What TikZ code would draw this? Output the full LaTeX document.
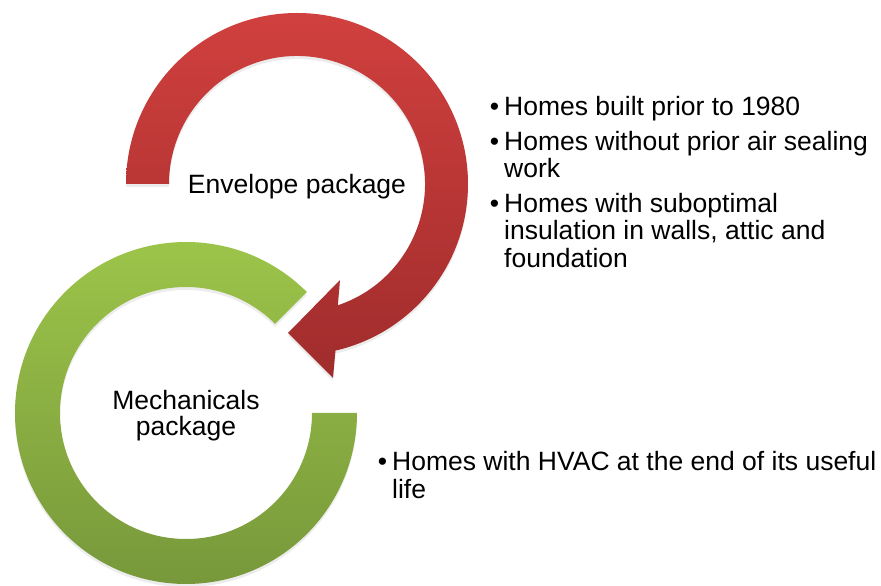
\documentclass[tikz,border=0pt]{standalone}
\usepackage{fontspec}
\setmainfont{Liberation Sans}
\usetikzlibrary{shadows}

\definecolor{envtop}{RGB}{208,64,62}
\definecolor{envbot}{RGB}{160,44,44}
\definecolor{mechtop}{RGB}{158,198,74}
\definecolor{mechbot}{RGB}{118,150,58}

\newcommand{\itembullet}{\llap{•\hspace{5pt}}}

\tikzset{
  ringshadow/.style={drop shadow={shadow xshift=0pt,shadow yshift=-3pt,opacity=0.15}},
  pkglabel/.style={font=\fontsize{26.5}{26}\selectfont,inner sep=0pt},
  itemtext/.style={font=\fontsize{26.5}{27.5}\selectfont,align=left,anchor=base west,inner sep=0pt}
}

\begin{document}
\begin{tikzpicture}[x=1pt,y=1pt] % 881 x 586
  \useasboundingbox (0,0) rectangle (881,586);
  \coordinate (envc) at (297,402);
  \coordinate (mechc) at (186,173);
  % green ring, open on the upper right
  \shade[top color=mechtop,bottom color=mechbot,ringshadow]
    ([shift={(45:171)}]mechc) arc[start angle=45,end angle=360,radius=171]
    -- ([shift={(0:126)}]mechc) arc[start angle=360,end angle=45,radius=126] -- cycle;
  % red circular arrow
  \shade[top color=envtop,bottom color=envbot,ringshadow]
    ([shift={(180:171)}]envc) arc[start angle=180,end angle=-77,radius=171]
    -- (333,208) -- (288,253) -- (340,306)
    -- ([shift={(-71.4:128)}]envc) arc[start angle=-71.4,end angle=180,radius=128] -- cycle;
  \node[pkglabel,anchor=base] (envlabel) at (297,392) {Envelope package};
  \node[pkglabel,align=center] (mechlabel) at (186,170) {Mechanicals\\package};
  % base of a list item = baseline of its last line
  \node[itemtext] (envitemA) at (504,470) {\itembullet Homes built prior to 1980};
  \node[itemtext] (envitemB) at (504,408) {\itembullet Homes without prior air sealing\\work};
  \node[itemtext] (envitemC) at (504,318.5) {\itembullet Homes with suboptimal\\insulation in walls, attic and\\foundation};
  \node[itemtext] (mechitem) at (392,87.7) {\itembullet Homes with HVAC at the end of its useful\\life};
\end{tikzpicture}
\end{document}
